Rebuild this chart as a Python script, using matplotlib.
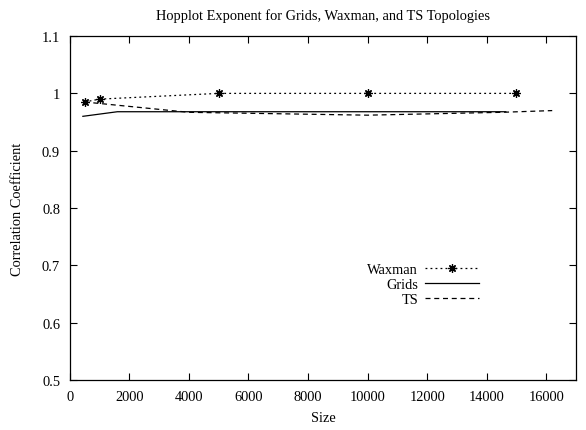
import matplotlib
matplotlib.use('Agg')
import matplotlib.pyplot as plt

plt.rcParams['font.family'] = ['Liberation Serif', 'DejaVu Serif']

waxman_size = [500, 1000, 5000, 10000, 15000]
waxman_corr = [0.985, 0.990, 1.000, 1.000, 1.000]

grids_size = [441, 1600, 3600, 6400, 10000, 14641]
grids_corr = [0.960, 0.968, 0.968, 0.968, 0.968, 0.968]

ts_size = [500, 4000, 10000, 14500, 16200]
ts_corr = [0.985, 0.967, 0.962, 0.967, 0.970]

xticks = list(range(0, 16001, 2000))
yticks = [0.5, 0.6, 0.7, 0.8, 0.9, 1.0, 1.1]
yticklabels = ['0.5', '0.6', '0.7', '0.8', '0.9', '1', '1.1']

fs = 10.4

fig = plt.figure(figsize=(5.86, 4.31), dpi=100)
ax = fig.add_axes([0.119, 0.116, 0.864, 0.798])

ax.plot(waxman_size, waxman_corr, color='black', lw=0.9, ls=(0, (1.5, 2.5)),
        marker=(8, 2, 0), ms=6, mew=0.9, label='Waxman')
ax.plot(grids_size, grids_corr, color='black', lw=0.9, ls='-', label='Grids')
ax.plot(ts_size, ts_corr, color='black', lw=0.9, ls=(0, (4, 3)), label='TS')

ax.set_xlim(0, 17000)
ax.set_ylim(0.5, 1.1)
ax.set_xticks(xticks)
ax.set_yticks(yticks)
ax.set_yticklabels(yticklabels)
ax.tick_params(direction='in', length=5, width=0.8, top=True, right=True,
               labelsize=fs, pad=7)
for s in ax.spines.values():
    s.set_linewidth(0.9)

ax.set_xlabel('Size', fontsize=fs, labelpad=6)
ax.set_ylabel('Correlation Coefficient', fontsize=fs, labelpad=13)
ax.set_title('Hopplot Exponent for Grids, Waxman, and TS Topologies', fontsize=fs, pad=12)

ax.legend(loc='upper right', bbox_to_anchor=(0.822, 0.362), frameon=False,
          markerfirst=False, fontsize=fs, handlelength=3.7, labelspacing=0.15,
          handletextpad=0.5, borderpad=0)

fig.savefig('out.png', dpi=100)
